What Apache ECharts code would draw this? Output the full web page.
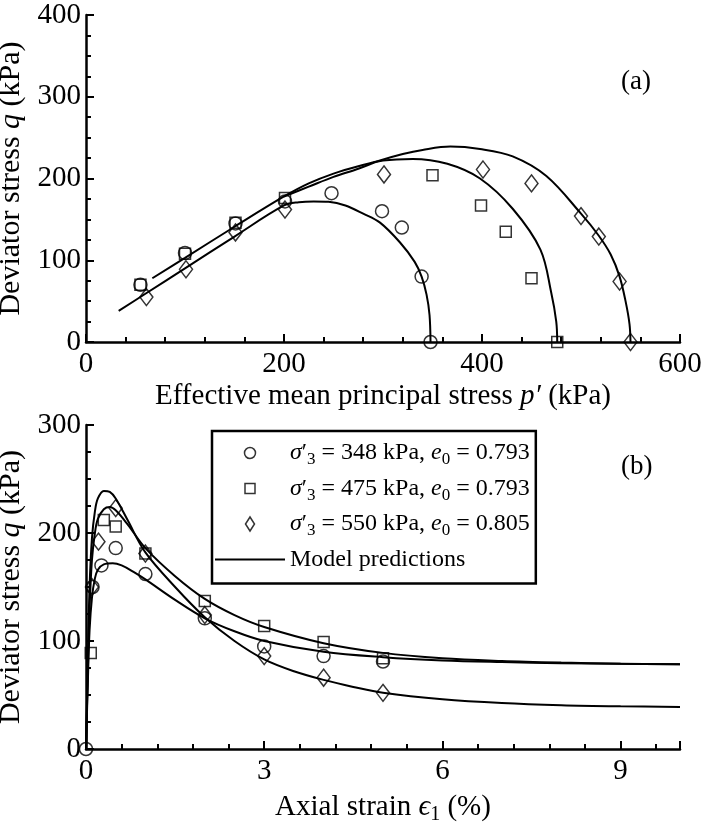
<!DOCTYPE html>
<html><head><meta charset="utf-8">
<script src="https://cdn.jsdelivr.net/npm/echarts@6/dist/echarts.min.js"></script>
<style>html,body{margin:0;padding:0;background:#fff}#c{width:705px;height:837px}</style>
</head><body><div id="c"></div>
<script>
// ---- Panel (a): effective stress paths p'-q ----
const aXTicks = [0, 200, 400, 600];
const aYTicks = [0, 100, 200, 300, 400];
const aCircle = [[55,70],[100,109],[151,145],[201,172],[248,182],[299,160],[319,140],[339,80],[348,0]];
const aSquare = [[55,70],[100,108],[151,146],[201,176],[350,204],[399,167],[424,135],[450,78],[476,0]];
const aDiamond = [[61,55],[101,89],[151,134],[201,162],[301,205],[401,211],[450,194],[500,154],[518,129],[539,74],[550,0]];
const aModelCircle = [[33,38],[60,59],[100,90],[150,129],[200,167],[215,171],[230,172],[245,171.5],[262,167],[280,157],[297,146],[317,122],[332,98],[339,80],[344,58],[347,33],[348,0]];
const aModelSquare = [[67,78],[100,103],[150,141],[200,178],[225,194],[250,206],[275,215],[300,222],[330,224],[365,218],[398,200],[431,163],[459,113],[470,60],[475,25],[476,0]];
const aModelDiamond = [[200,178],[225,190],[250,202],[275,212],[297,222],[320,230],[340,235],[368,239],[398,236],[431,227],[465,203],[500,157],[518,130],[530,107],[539,80],[545,50],[549,22],[550,0]];

// ---- Panel (b): q vs axial strain ----
const bXTicks = [0, 3, 6, 9];
const bXMax = 10;
const bYTicks = [0, 100, 200, 300];
const bCircle = [[0,0],[0.11,150],[0.26,170],[0.5,186],[1,162],[2,121],[3,95],[4,86],[5,81]];
const bSquare = [[0.08,89],[0.3,212],[0.5,206],[1,181],[2,137],[3,114],[4,99],[5,84]];
const bDiamond = [[0.1,150],[0.21,192],[0.5,223],[1,181],[2,124],[3,86],[4,66],[5,52]];
const bModelCircle = [[0,0],[0.03,60],[0.06,110],[0.1,140],[0.15,158],[0.2,166],[0.3,171],[0.45,172],[0.6,170],[0.8,164],[1,157],[1.5,138],[2,121],[2.5,109],[3,100],[4,90],[5,85],[6,82],[7,80.5],[8,79.5],[9,79],[10,78.5]];
const bModelSquare = [[0,0],[0.03,70],[0.06,130],[0.1,175],[0.15,200],[0.2,213],[0.3,222],[0.4,224],[0.5,221],[0.7,208],[1,186],[1.5,160],[2,139],[2.5,124],[3,113],[4,98],[5,89],[6,84],[7,81.5],[8,80],[9,79],[10,78.5]];
const bModelDiamond = [[0,0],[0.03,80],[0.06,150],[0.1,195],[0.15,220],[0.2,232],[0.3,239],[0.4,238],[0.5,232],[0.7,212],[1,182],[1.5,150],[2,122],[2.5,100],[3,83],[3.5,72],[4,64],[4.5,57.5],[5,52],[6,46],[7,42.5],[8,40.5],[9,39.5],[10,39]];

const legendTexts = {
  c348: '{i|σ}′{s|3} = 348 kPa, {i|e}{s|0} = 0.793',
  s475: '{i|σ}′{s|3} = 475 kPa, {i|e}{s|0} = 0.793',
  d550: '{i|σ}′{s|3} = 550 kPa, {i|e}{s|0} = 0.805',
  'Model predictions': 'Model predictions'
};

const FF = 'Liberation Serif, Times New Roman, serif';
const richAxis = {
  i: {fontStyle: 'italic', fontFamily: FF, fontSize: 29, color: '#000'},
  s: {fontFamily: FF, fontSize: 20, color: '#000', padding: [16, 0, 0, 0]}
};
const richY = {
  i: {fontStyle: 'italic', fontFamily: FF, fontSize: 30, color: '#000'}
};
const mkX = (gi, min, max, interval, name, split) => ({
  type: 'value', gridIndex: gi, min, max, interval,
  name, nameLocation: 'middle', nameGap: 40,
  nameTextStyle: {fontFamily: FF, fontSize: 29, color: '#000', rich: richAxis},
  axisLine: {lineStyle: {color: '#000', width: 2.5}},
  axisTick: {inside: true, length: 8, lineStyle: {color: '#000', width: 2}},
  minorTick: {show: true, splitNumber: split, length: 5, lineStyle: {color: '#000', width: 2}},
  axisLabel: {fontFamily: FF, fontSize: 29, color: '#000', margin: 8, showMaxLabel: max % interval === 0},
  splitLine: {show: false}
});
const mkY = (gi, min, max, interval) => ({
  type: 'value', gridIndex: gi, min, max, interval,
  name: 'Deviator stress {i|q} (kPa)', nameLocation: 'middle', nameGap: 44,
  nameTextStyle: {fontFamily: FF, fontSize: 30, color: '#000', rich: richY},
  axisLine: {lineStyle: {color: '#000', width: 2.5}},
  axisTick: {inside: true, length: 8, lineStyle: {color: '#000', width: 2}},
  minorTick: {show: true, splitNumber: 4, length: 5, lineStyle: {color: '#000', width: 2}},
  axisLabel: {fontFamily: FF, fontSize: 29, color: '#000', margin: 5},
  splitLine: {show: false}
});
const mkScatter = (name, symbol, data, gi, size) => ({
  type: 'scatter', name, symbol, symbolSize: size, data,
  xAxisIndex: gi, yAxisIndex: gi, z: 3,
  itemStyle: {color: 'rgba(0,0,0,0)', borderColor: '#000', borderWidth: 1.5}
});
const mkLine = (data, gi) => ({
  type: 'line', name: 'Model predictions', data, xAxisIndex: gi, yAxisIndex: gi,
  symbol: 'none', smooth: 0.35, z: 2,
  lineStyle: {color: '#000', width: 2}, itemStyle: {color: '#000'}
});

const hollow = {color: 'rgba(0,0,0,0)', borderColor: '#000', borderWidth: 1.5};
const chart = echarts.init(document.getElementById('c'), null, {renderer: 'canvas'});
chart.setOption({
  animation: false,
  backgroundColor: '#fff',
  grid: [
    {left: 86, right: 25, top: 15, height: 327, containLabel: false, outerBoundsMode: 'none'},
    {left: 86, right: 25, top: 425, height: 324, containLabel: false, outerBoundsMode: 'none'}
  ],
  title: [
    {text: '(a)', left: 616, top: 63, textStyle: {fontFamily: FF, fontSize: 27, fontWeight: 'normal', color: '#000'}},
    {text: '(b)', left: 616, top: 448, textStyle: {fontFamily: FF, fontSize: 27, fontWeight: 'normal', color: '#000'}}
  ],
  xAxis: [
    mkX(0, aXTicks[0], aXTicks[aXTicks.length - 1], aXTicks[1] - aXTicks[0], 'Effective mean principal stress {i|p′} (kPa)', 5),
    mkX(1, bXTicks[0], bXMax, bXTicks[1] - bXTicks[0], 'Axial strain {i|ϵ}{s|1} (%)', 5)
  ],
  yAxis: [
    mkY(0, aYTicks[0], aYTicks[aYTicks.length - 1], aYTicks[1] - aYTicks[0]),
    mkY(1, bYTicks[0], bYTicks[bYTicks.length - 1], bYTicks[1] - bYTicks[0])
  ],
  legend: {
    data: [
      {name: 'c348', icon: 'path://M0,0M14,14M7,1.5A5.5,5.5,0,1,1,6.99,1.5Z', itemStyle: hollow},
      {name: 's475', icon: 'path://M0,0M14,14M2,2L12,2L12,12L2,12Z', itemStyle: hollow},
      {name: 'd550', icon: 'path://M0,0M14,14M7,0L11.5,7L7,14L2.5,7Z', itemStyle: hollow},
      {name: 'Model predictions', icon: 'path://M0,0L70,0L70,2.2L0,2.2Z', itemStyle: {color: '#000', borderWidth: 0}}
    ],
    orient: 'vertical', left: 212, top: 431,
    itemWidth: 70, itemHeight: 14, itemGap: 8,
    symbolKeepAspect: true,
    padding: [10, 6, 12, 3],
    borderColor: '#000', borderWidth: 2.5,
    backgroundColor: '#fff',
    formatter: n => legendTexts[n],
    textStyle: {fontFamily: FF, fontSize: 24, color: '#000', rich: {
      i: {fontStyle: 'italic', fontFamily: FF, fontSize: 24, color: '#000'},
      s: {fontFamily: FF, fontSize: 17, color: '#000', padding: [14, 0, 0, 0]}
    }},
    selectedMode: false
  },
  series: [
    mkScatter('c348', 'circle', aCircle, 0, 13),
    mkScatter('s475', 'rect', aSquare, 0, 11),
    mkScatter('d550', 'diamond', aDiamond, 0, [13, 17]),
    mkLine(aModelCircle, 0), mkLine(aModelSquare, 0), mkLine(aModelDiamond, 0),
    mkScatter('c348', 'circle', bCircle, 1, 13),
    mkScatter('s475', 'rect', bSquare, 1, 11),
    mkScatter('d550', 'diamond', bDiamond, 1, [13, 17]),
    mkLine(bModelCircle, 1), mkLine(bModelSquare, 1), mkLine(bModelDiamond, 1)
  ]
});
</script></body></html>
